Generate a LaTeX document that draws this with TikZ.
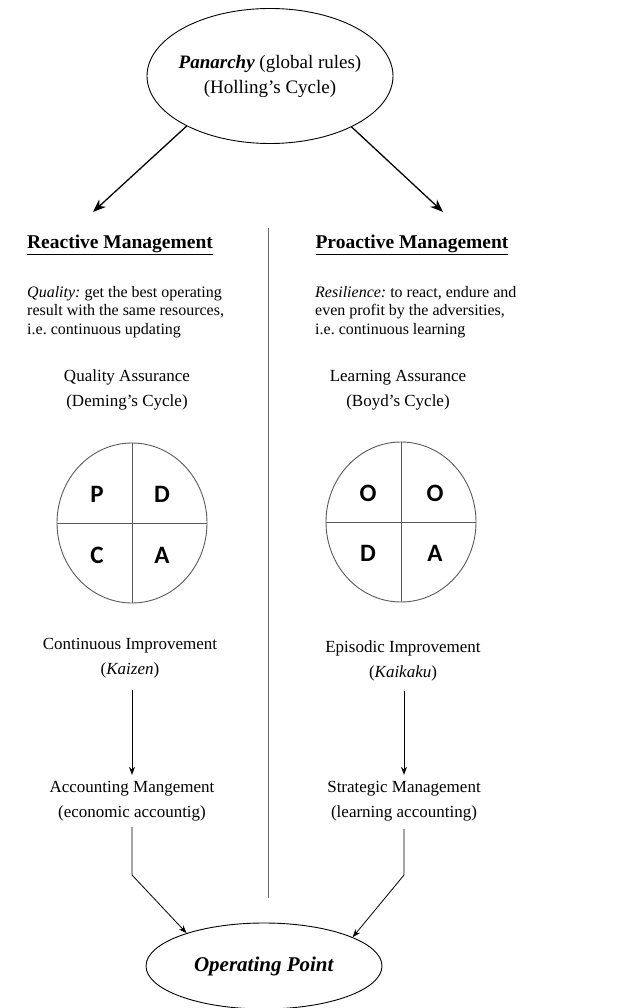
\documentclass[tikz,border=0pt]{standalone}
\usepackage{fontspec}
\setmainfont{Liberation Serif}
\setsansfont{Carlito}
\usetikzlibrary{shapes,arrows,positioning,calc,arrows.meta}
\frenchspacing

\begin{document}
\begin{tikzpicture}[x=1pt,y=-1pt,
    txt/.style={align=center, inner sep=2pt, font=\fontsize{17}{25}\selectfont},
    desc/.style={align=left, inner sep=0pt, font=\fontsize{16}{18.5}\selectfont},
    head/.style={font=\fontsize{19.5}{22}\selectfont\bfseries},
    cycle/.style={draw=black!65, ellipse, line width=0.9pt, minimum width=150, minimum height=160},
    letter/.style={font=\fontsize{25}{27}\sffamily\bfseries},
    bigarrow/.style={-{Stealth[length=13pt,width=10pt]}, line width=1.3pt},
    smallarrow/.style={-{Stealth[length=8pt,width=6pt]}, line width=0.8pt}]
    \useasboundingbox (0,0) rectangle (630,1008);

    % Panarchy on top
    \node[draw, ellipse, line width=0.9pt, minimum width=246, minimum height=135] (pan) at (270,76) {};
    \node[align=center, font=\fontsize{19}{25}\selectfont] (pantxt) at (pan.center)
        {\textbf{\textit{Panarchy}} (global rules)\\(Holling's Cycle)};
    \coordinate (la) at (93,212);
    \coordinate (ra) at (443,212);
    \draw[bigarrow] (pan.211) -- (la);
    \draw[bigarrow] (pan.328) -- (ra);

    % Divider
    \draw[black!60, line width=0.9pt] (268,228) -- (268,898);

    % Reactive side
    \node[head] (react) at (120,245) {\underline{Reactive Management}};
    \node[desc, anchor=west] (quality) at (27,312)
        {\textit{Quality:} get the best operating\\result with the same resources,\\i.e. continuous updating};
    \node[txt] (qa) at (127,390) {Quality Assurance\\(Deming's Cycle)};
    \node[cycle] (pdca) at (132,523) {};
    \draw[black!65, line width=0.9pt] (pdca.north) -- (pdca.south);
    \draw[black!65, line width=0.9pt] (pdca.west) -- (pdca.east);
    \node[letter] (p) at (97,494) {P};
    \node[letter] (d) at (162,494) {D};
    \node[letter] (c) at (97,555) {C};
    \node[letter] (a) at (162,555) {A};
    \node[txt] (ci) at (130,658) {Continuous Improvement\\(\textit{Kaizen})};
    \node[txt] (acct) at (132,801) {Accounting Mangement\\(economic accountig)};
    \draw[smallarrow, shorten <=10pt, shorten >=4pt] (acct.north |- ci.south) -- (acct.north);

    % Proactive side
    \node[head] (proact) at (412,245) {\underline{Proactive Management}};
    \node[desc, anchor=west] (resil) at (315,312)
        {\textit{Resilience:} to react, endure and\\even profit by the adversities,\\i.e. continuous learning};
    \node[txt] (la2) at (398,390) {Learning Assurance\\(Boyd's Cycle)};
    \node[cycle] (ooda) at (401,522) {};
    \draw[black!65, line width=0.9pt] (ooda.north) -- (ooda.south);
    \draw[black!65, line width=0.9pt] (ooda.west) -- (ooda.east);
    \node[letter] (o1) at (368,493) {O};
    \node[letter] (o2) at (435,493) {O};
    \node[letter] (d2) at (368,553) {D};
    \node[letter] (a2) at (435,553) {A};
    \node[txt] (ei) at (403,661) {Episodic Improvement\\(\textit{Kaikaku})};
    \node[txt] (strat) at (404,801) {Strategic Management\\(learning accounting)};
    \draw[smallarrow, shorten <=8pt, shorten >=4pt] (strat.north |- ei.south) -- (strat.north);

    % Operating point at the bottom
    \node[draw, ellipse, line width=0.9pt, minimum width=236, minimum height=86] (op) at (264,966) {};
    \node[font=\fontsize{21}{24}\selectfont] (optxt) at (op.center) {\textbf{\textit{Operating Point}}};
    \coordinate (lbend) at (131,875);
    \coordinate (rbend) at (401,875);
    \draw[smallarrow, shorten <=4pt] (acct.south) -- (acct.south |- lbend) -- (op.157);
    \draw[smallarrow, shorten <=6pt] (strat.south) -- (strat.south |- rbend) -- (op.18);
\end{tikzpicture}
\end{document}
